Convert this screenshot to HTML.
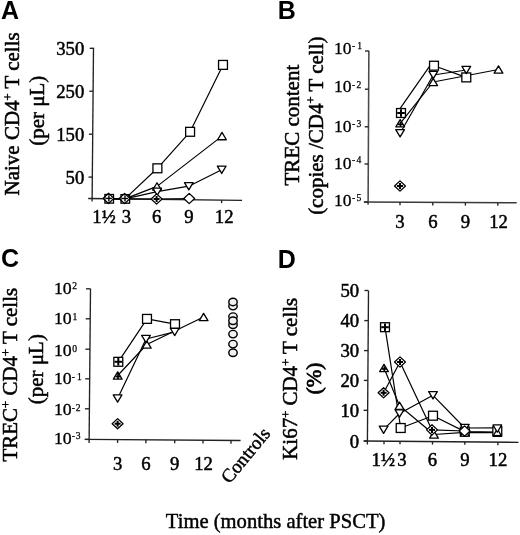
<!DOCTYPE html>
<html><head><meta charset="utf-8"><style>
html,body{margin:0;padding:0;background:#fff;width:520px;height:535px;overflow:hidden}
svg{display:block;will-change:transform}
</style></head><body>
<svg width="520" height="535" viewBox="0 0 520 535">
<rect width="520" height="535" fill="#fff"/>
<text x="1.00" y="18.90" font-size="25" text-anchor="start" font-family='"Liberation Sans", sans-serif' font-weight="bold" >A</text>
<text x="277.80" y="18.60" font-size="25" text-anchor="start" font-family='"Liberation Sans", sans-serif' font-weight="bold" >B</text>
<text x="1.00" y="266.60" font-size="25" text-anchor="start" font-family='"Liberation Sans", sans-serif' font-weight="bold" >C</text>
<text x="277.80" y="267.60" font-size="25" text-anchor="start" font-family='"Liberation Sans", sans-serif' font-weight="bold" >D</text>
<line x1="93.50" y1="47.70" x2="92.10" y2="201.50" stroke="#222" stroke-width="1.35"/>
<line x1="88.20" y1="198.50" x2="242.10" y2="200.40" stroke="#222" stroke-width="1.35"/>
<line x1="89.69" y1="48.30" x2="93.49" y2="48.30" stroke="#222" stroke-width="1.35"/>
<text x="84.30" y="55.30" font-size="18.7" text-anchor="end" font-family='"Liberation Serif", serif' font-weight="normal" stroke="#000" stroke-width="0.5" >350</text>
<line x1="89.30" y1="91.20" x2="93.10" y2="91.20" stroke="#222" stroke-width="1.35"/>
<text x="84.30" y="98.20" font-size="18.7" text-anchor="end" font-family='"Liberation Serif", serif' font-weight="normal" stroke="#000" stroke-width="0.5" >250</text>
<line x1="88.91" y1="134.20" x2="92.71" y2="134.20" stroke="#222" stroke-width="1.35"/>
<text x="84.30" y="141.20" font-size="18.7" text-anchor="end" font-family='"Liberation Serif", serif' font-weight="normal" stroke="#000" stroke-width="0.5" >150</text>
<line x1="88.52" y1="177.10" x2="92.32" y2="177.10" stroke="#222" stroke-width="1.35"/>
<text x="84.30" y="184.10" font-size="18.7" text-anchor="end" font-family='"Liberation Serif", serif' font-weight="normal" stroke="#000" stroke-width="0.5" >50</text>
<line x1="108.30" y1="198.75" x2="108.30" y2="201.75" stroke="#222" stroke-width="1.35"/>
<line x1="124.40" y1="198.95" x2="124.40" y2="201.95" stroke="#222" stroke-width="1.35"/>
<line x1="156.60" y1="199.34" x2="156.60" y2="202.34" stroke="#222" stroke-width="1.35"/>
<line x1="188.90" y1="199.74" x2="188.90" y2="202.74" stroke="#222" stroke-width="1.35"/>
<line x1="221.60" y1="200.15" x2="221.60" y2="203.15" stroke="#222" stroke-width="1.35"/>
<text x="104.00" y="223.00" font-size="18.7" text-anchor="middle" font-family='"Liberation Serif", serif' font-weight="normal" stroke="#000" stroke-width="0.5" >1½</text>
<text x="126.30" y="223.00" font-size="18.7" text-anchor="middle" font-family='"Liberation Serif", serif' font-weight="normal" stroke="#000" stroke-width="0.5" >3</text>
<text x="156.60" y="223.00" font-size="18.7" text-anchor="middle" font-family='"Liberation Serif", serif' font-weight="normal" stroke="#000" stroke-width="0.5" >6</text>
<text x="188.90" y="223.00" font-size="18.7" text-anchor="middle" font-family='"Liberation Serif", serif' font-weight="normal" stroke="#000" stroke-width="0.5" >9</text>
<text x="224.20" y="223.00" font-size="18.7" text-anchor="middle" font-family='"Liberation Serif", serif' font-weight="normal" stroke="#000" stroke-width="0.5" >12</text>
<text transform="translate(19.2,113.9) rotate(-90)" font-size="21" text-anchor="middle" font-family='"Liberation Serif", serif' stroke="#000" stroke-width="0.5">Naive CD4<tspan dy="-7.5" font-size="12.5">+</tspan><tspan dy="7.5"> T cells</tspan></text>
<text transform="translate(43.8,110.8) rotate(-90)" font-size="21" text-anchor="middle" font-family='"Liberation Serif", serif' stroke="#000" stroke-width="0.5">(per μL)</text>
<polyline points="108.70,198.70 124.90,198.90 157.40,168.30 190.10,131.80 223.00,64.90" fill="none" stroke="#000" stroke-width="1.2" stroke-linejoin="round"/>
<polyline points="108.70,198.70 124.90,198.90 157.00,186.40 222.00,136.10" fill="none" stroke="#000" stroke-width="1.2" stroke-linejoin="round"/>
<polyline points="108.70,198.70 124.90,198.90 157.20,191.70 188.80,186.20 221.70,169.80" fill="none" stroke="#000" stroke-width="1.2" stroke-linejoin="round"/>
<polyline points="108.70,198.70 124.90,198.90 156.60,199.00 189.20,198.50" fill="none" stroke="#000" stroke-width="1.2" stroke-linejoin="round"/>
<polygon points="103.05,198.40 108.50,193.30 113.95,198.40 108.50,203.50" fill="#fff" stroke="#000" stroke-width="1.3" stroke-linejoin="round"/>
<rect x="104.90" y="194.50" width="8.6" height="8.6" fill="none" stroke="#000" stroke-width="1.3"/>
<line x1="105.90" y1="198.40" x2="111.90" y2="198.40" stroke="#000" stroke-width="1.4"/>
<line x1="108.90" y1="195.40" x2="108.90" y2="201.40" stroke="#000" stroke-width="1.4"/>
<polygon points="119.15,198.50 124.60,193.40 130.05,198.50 124.60,203.60" fill="#fff" stroke="#000" stroke-width="1.3" stroke-linejoin="round"/>
<rect x="121.00" y="194.60" width="8.6" height="8.6" fill="none" stroke="#000" stroke-width="1.3"/>
<line x1="122.00" y1="198.50" x2="128.00" y2="198.50" stroke="#000" stroke-width="1.4"/>
<line x1="125.00" y1="195.50" x2="125.00" y2="201.50" stroke="#000" stroke-width="1.4"/>
<rect x="152.95" y="163.85" width="8.9" height="8.9" fill="#fff" stroke="#000" stroke-width="1.3"/>
<rect x="185.65" y="127.35" width="8.9" height="8.9" fill="#fff" stroke="#000" stroke-width="1.3"/>
<rect x="218.55" y="60.45" width="8.9" height="8.9" fill="#fff" stroke="#000" stroke-width="1.3"/>
<polygon points="152.65,190.05 161.35,190.05 157.00,182.75" fill="#fff" stroke="#000" stroke-width="1.3" stroke-linejoin="round"/>
<polygon points="217.65,139.75 226.35,139.75 222.00,132.45" fill="#fff" stroke="#000" stroke-width="1.3" stroke-linejoin="round"/>
<polygon points="152.85,188.05 161.55,188.05 157.20,195.35" fill="#fff" stroke="#000" stroke-width="1.3" stroke-linejoin="round"/>
<polygon points="184.45,182.55 193.15,182.55 188.80,189.85" fill="#fff" stroke="#000" stroke-width="1.3" stroke-linejoin="round"/>
<polygon points="217.35,166.15 226.05,166.15 221.70,173.45" fill="#fff" stroke="#000" stroke-width="1.3" stroke-linejoin="round"/>
<polygon points="151.15,199.00 156.60,193.90 162.05,199.00 156.60,204.10" fill="#fff" stroke="#000" stroke-width="1.3" stroke-linejoin="round"/>
<line x1="153.60" y1="199.00" x2="159.60" y2="199.00" stroke="#000" stroke-width="2.0"/>
<line x1="156.60" y1="196.00" x2="156.60" y2="202.00" stroke="#000" stroke-width="2.0"/>
<polygon points="183.75,198.50 189.20,193.40 194.65,198.50 189.20,203.60" fill="#fff" stroke="#000" stroke-width="1.3" stroke-linejoin="round"/>
<line x1="368.85" y1="50.70" x2="368.10" y2="204.70" stroke="#4a4a4a" stroke-width="1.55"/>
<line x1="363.80" y1="202.10" x2="516.70" y2="202.80" stroke="#3a3a3a" stroke-width="1.5"/>
<line x1="365.05" y1="51.00" x2="368.85" y2="51.00" stroke="#222" stroke-width="1.35"/>
<text x="351.60" y="53.80" font-size="17.578" text-anchor="end" font-family='"Liberation Serif", serif' font-weight="normal" stroke="#000" stroke-width="0.3" >10</text>
<text x="351.90" y="48.80" font-size="9.6" text-anchor="start" font-family='"Liberation Serif", serif' font-weight="normal" stroke="#000" stroke-width="0.25" >-</text>
<text x="357.20" y="48.80" font-size="9.6" text-anchor="start" font-family='"Liberation Serif", serif' font-weight="normal" stroke="#000" stroke-width="0.25" >1</text>
<line x1="364.86" y1="89.20" x2="368.66" y2="89.20" stroke="#222" stroke-width="1.35"/>
<text x="351.60" y="92.20" font-size="17.578" text-anchor="end" font-family='"Liberation Serif", serif' font-weight="normal" stroke="#000" stroke-width="0.3" >10</text>
<text x="351.90" y="87.60" font-size="9.6" text-anchor="start" font-family='"Liberation Serif", serif' font-weight="normal" stroke="#000" stroke-width="0.25" >-</text>
<text x="356.60" y="87.60" font-size="9.6" text-anchor="start" font-family='"Liberation Serif", serif' font-weight="normal" stroke="#000" stroke-width="0.25" >2</text>
<line x1="364.68" y1="126.80" x2="368.48" y2="126.80" stroke="#222" stroke-width="1.35"/>
<text x="351.60" y="132.30" font-size="17.578" text-anchor="end" font-family='"Liberation Serif", serif' font-weight="normal" stroke="#000" stroke-width="0.3" >10</text>
<text x="351.90" y="127.40" font-size="9.6" text-anchor="start" font-family='"Liberation Serif", serif' font-weight="normal" stroke="#000" stroke-width="0.25" >-</text>
<text x="356.60" y="127.40" font-size="9.6" text-anchor="start" font-family='"Liberation Serif", serif' font-weight="normal" stroke="#000" stroke-width="0.25" >3</text>
<line x1="364.50" y1="164.00" x2="368.30" y2="164.00" stroke="#222" stroke-width="1.35"/>
<text x="351.60" y="168.50" font-size="17.578" text-anchor="end" font-family='"Liberation Serif", serif' font-weight="normal" stroke="#000" stroke-width="0.3" >10</text>
<text x="351.90" y="163.20" font-size="9.6" text-anchor="start" font-family='"Liberation Serif", serif' font-weight="normal" stroke="#000" stroke-width="0.25" >-</text>
<text x="356.60" y="163.20" font-size="9.6" text-anchor="start" font-family='"Liberation Serif", serif' font-weight="normal" stroke="#000" stroke-width="0.25" >4</text>
<line x1="364.31" y1="202.10" x2="368.11" y2="202.10" stroke="#222" stroke-width="1.35"/>
<text x="351.60" y="205.70" font-size="17.578" text-anchor="end" font-family='"Liberation Serif", serif' font-weight="normal" stroke="#000" stroke-width="0.3" >10</text>
<text x="351.90" y="201.10" font-size="9.6" text-anchor="start" font-family='"Liberation Serif", serif' font-weight="normal" stroke="#000" stroke-width="0.25" >-</text>
<text x="356.60" y="201.10" font-size="9.6" text-anchor="start" font-family='"Liberation Serif", serif' font-weight="normal" stroke="#000" stroke-width="0.25" >5</text>
<line x1="400.00" y1="202.27" x2="400.00" y2="205.27" stroke="#222" stroke-width="1.35"/>
<text x="400.00" y="227.80" font-size="18.7" text-anchor="middle" font-family='"Liberation Serif", serif' font-weight="normal" stroke="#000" stroke-width="0.5" >3</text>
<line x1="432.80" y1="202.42" x2="432.80" y2="205.42" stroke="#222" stroke-width="1.35"/>
<text x="432.80" y="227.80" font-size="18.7" text-anchor="middle" font-family='"Liberation Serif", serif' font-weight="normal" stroke="#000" stroke-width="0.5" >6</text>
<line x1="465.40" y1="202.56" x2="465.40" y2="205.56" stroke="#222" stroke-width="1.35"/>
<text x="465.40" y="227.80" font-size="18.7" text-anchor="middle" font-family='"Liberation Serif", serif' font-weight="normal" stroke="#000" stroke-width="0.5" >9</text>
<line x1="497.80" y1="202.71" x2="497.80" y2="205.71" stroke="#222" stroke-width="1.35"/>
<text x="498.60" y="227.80" font-size="18.7" text-anchor="middle" font-family='"Liberation Serif", serif' font-weight="normal" stroke="#000" stroke-width="0.5" >12</text>
<text transform="translate(298.9,125.1) rotate(-90)" font-size="21" text-anchor="middle" font-family='"Liberation Serif", serif' stroke="#000" stroke-width="0.5">TREC content</text>
<text transform="translate(322.8,125.7) rotate(-90)" font-size="21" text-anchor="middle" font-family='"Liberation Serif", serif' stroke="#000" stroke-width="0.5">(copies /CD4<tspan dy="-7.5" font-size="12.5">+</tspan><tspan dy="7.5"> T cell)</tspan></text>
<polyline points="397.20,112.60 430.20,65.40" fill="none" stroke="#000" stroke-width="1.2" stroke-linejoin="round"/>
<polyline points="434.00,65.70 466.30,77.40" fill="none" stroke="#000" stroke-width="1.2" stroke-linejoin="round"/>
<polyline points="400.20,123.30 433.20,82.00 498.50,69.50" fill="none" stroke="#000" stroke-width="1.2" stroke-linejoin="round"/>
<polyline points="400.10,133.30 433.30,75.00 466.30,70.00" fill="none" stroke="#000" stroke-width="1.2" stroke-linejoin="round"/>
<polygon points="395.75,129.65 404.45,129.65 400.10,136.95" fill="#fff" stroke="#000" stroke-width="1.3" stroke-linejoin="round"/>
<polygon points="395.85,126.95 404.55,126.95 400.20,119.65" fill="#fff" stroke="#000" stroke-width="1.3" stroke-linejoin="round"/>
<line x1="398.00" y1="124.30" x2="403.00" y2="124.30" stroke="#000" stroke-width="1.7"/>
<line x1="400.50" y1="121.80" x2="400.50" y2="126.80" stroke="#000" stroke-width="1.7"/>
<rect x="396.55" y="108.55" width="8.9" height="8.9" fill="#fff" stroke="#000" stroke-width="1.3"/>
<line x1="397.20" y1="113.00" x2="404.80" y2="113.00" stroke="#000" stroke-width="2.0"/>
<line x1="401.00" y1="109.20" x2="401.00" y2="116.80" stroke="#000" stroke-width="2.0"/>
<polygon points="428.85,85.65 437.55,85.65 433.20,78.35" fill="#fff" stroke="#000" stroke-width="1.3" stroke-linejoin="round"/>
<polygon points="428.95,71.35 437.65,71.35 433.30,78.65" fill="#fff" stroke="#000" stroke-width="1.3" stroke-linejoin="round"/>
<rect x="429.55" y="61.25" width="8.9" height="8.9" fill="#fff" stroke="#000" stroke-width="1.3"/>
<rect x="461.85" y="72.95" width="8.9" height="8.9" fill="#fff" stroke="#000" stroke-width="1.3"/>
<polygon points="461.95,66.35 470.65,66.35 466.30,73.65" fill="#fff" stroke="#000" stroke-width="1.3" stroke-linejoin="round"/>
<polygon points="494.15,73.15 502.85,73.15 498.50,65.85" fill="#fff" stroke="#000" stroke-width="1.3" stroke-linejoin="round"/>
<polygon points="394.55,186.00 400.00,180.90 405.45,186.00 400.00,191.10" fill="#fff" stroke="#000" stroke-width="1.3" stroke-linejoin="round"/>
<line x1="397.00" y1="186.00" x2="403.00" y2="186.00" stroke="#000" stroke-width="2.0"/>
<line x1="400.00" y1="183.00" x2="400.00" y2="189.00" stroke="#000" stroke-width="2.0"/>
<line x1="90.50" y1="288.80" x2="89.10" y2="443.10" stroke="#222" stroke-width="1.35"/>
<line x1="85.20" y1="439.40" x2="240.60" y2="440.50" stroke="#222" stroke-width="1.35"/>
<line x1="86.00" y1="288.80" x2="90.50" y2="288.80" stroke="#222" stroke-width="1.35"/>
<text x="71.70" y="293.80" font-size="17.764999999999997" text-anchor="end" font-family='"Liberation Serif", serif' font-weight="normal" stroke="#000" stroke-width="0.35" >10</text>
<text x="72.30" y="288.80" font-size="9.6" text-anchor="start" font-family='"Liberation Serif", serif' font-weight="normal" stroke="#000" stroke-width="0.25" >2</text>
<line x1="85.73" y1="318.80" x2="90.23" y2="318.80" stroke="#222" stroke-width="1.35"/>
<text x="71.70" y="324.10" font-size="17.764999999999997" text-anchor="end" font-family='"Liberation Serif", serif' font-weight="normal" stroke="#000" stroke-width="0.35" >10</text>
<text x="72.60" y="319.50" font-size="9.6" text-anchor="start" font-family='"Liberation Serif", serif' font-weight="normal" stroke="#000" stroke-width="0.25" >1</text>
<line x1="85.45" y1="349.20" x2="89.95" y2="349.20" stroke="#222" stroke-width="1.35"/>
<text x="71.70" y="356.30" font-size="17.764999999999997" text-anchor="end" font-family='"Liberation Serif", serif' font-weight="normal" stroke="#000" stroke-width="0.35" >10</text>
<text x="72.30" y="352.10" font-size="9.6" text-anchor="start" font-family='"Liberation Serif", serif' font-weight="normal" stroke="#000" stroke-width="0.25" >0</text>
<line x1="85.18" y1="378.80" x2="89.68" y2="378.80" stroke="#222" stroke-width="1.35"/>
<text x="71.70" y="384.40" font-size="17.764999999999997" text-anchor="end" font-family='"Liberation Serif", serif' font-weight="normal" stroke="#000" stroke-width="0.35" >10</text>
<text x="71.80" y="380.20" font-size="9.6" text-anchor="start" font-family='"Liberation Serif", serif' font-weight="normal" stroke="#000" stroke-width="0.25" >-</text>
<text x="77.00" y="380.20" font-size="9.6" text-anchor="start" font-family='"Liberation Serif", serif' font-weight="normal" stroke="#000" stroke-width="0.25" >1</text>
<line x1="84.91" y1="408.80" x2="89.41" y2="408.80" stroke="#222" stroke-width="1.35"/>
<text x="71.70" y="414.70" font-size="17.764999999999997" text-anchor="end" font-family='"Liberation Serif", serif' font-weight="normal" stroke="#000" stroke-width="0.35" >10</text>
<text x="71.80" y="410.60" font-size="9.6" text-anchor="start" font-family='"Liberation Serif", serif' font-weight="normal" stroke="#000" stroke-width="0.25" >-</text>
<text x="75.80" y="410.60" font-size="9.6" text-anchor="start" font-family='"Liberation Serif", serif' font-weight="normal" stroke="#000" stroke-width="0.25" >2</text>
<line x1="84.63" y1="439.40" x2="89.13" y2="439.40" stroke="#222" stroke-width="1.35"/>
<text x="71.70" y="444.30" font-size="17.764999999999997" text-anchor="end" font-family='"Liberation Serif", serif' font-weight="normal" stroke="#000" stroke-width="0.35" >10</text>
<text x="71.80" y="439.30" font-size="9.6" text-anchor="start" font-family='"Liberation Serif", serif' font-weight="normal" stroke="#000" stroke-width="0.25" >-</text>
<text x="75.80" y="439.30" font-size="9.6" text-anchor="start" font-family='"Liberation Serif", serif' font-weight="normal" stroke="#000" stroke-width="0.25" >3</text>
<line x1="117.60" y1="439.63" x2="117.60" y2="442.93" stroke="#222" stroke-width="1.35"/>
<text x="117.60" y="469.80" font-size="18.7" text-anchor="middle" font-family='"Liberation Serif", serif' font-weight="normal" stroke="#000" stroke-width="0.5" >3</text>
<line x1="145.90" y1="439.83" x2="145.90" y2="443.13" stroke="#222" stroke-width="1.35"/>
<text x="145.90" y="469.80" font-size="18.7" text-anchor="middle" font-family='"Liberation Serif", serif' font-weight="normal" stroke="#000" stroke-width="0.5" >6</text>
<line x1="174.70" y1="440.03" x2="174.70" y2="443.33" stroke="#222" stroke-width="1.35"/>
<text x="174.70" y="469.80" font-size="18.7" text-anchor="middle" font-family='"Liberation Serif", serif' font-weight="normal" stroke="#000" stroke-width="0.5" >9</text>
<line x1="203.00" y1="440.23" x2="203.00" y2="443.53" stroke="#222" stroke-width="1.35"/>
<text x="203.60" y="469.80" font-size="18.7" text-anchor="middle" font-family='"Liberation Serif", serif' font-weight="normal" stroke="#000" stroke-width="0.5" >12</text>
<line x1="231.00" y1="440.43" x2="231.00" y2="443.73" stroke="#222" stroke-width="1.35"/>
<text transform="translate(229.5,484.5) rotate(-50.5)" font-size="19" font-family='"Liberation Serif", serif' stroke="#000" stroke-width="0.45">Controls</text>
<text transform="translate(17.3,374.7) rotate(-90)" font-size="21" text-anchor="middle" font-family='"Liberation Serif", serif' stroke="#000" stroke-width="0.5">TREC<tspan dy="-7.5" font-size="12.5">+</tspan><tspan dy="7.5"> CD4<tspan dy="-7.5" font-size="12.5">+</tspan><tspan dy="7.5"> T cells</tspan></tspan></text>
<text transform="translate(42.6,369.2) rotate(-90)" font-size="21" text-anchor="middle" font-family='"Liberation Serif", serif' stroke="#000" stroke-width="0.5">(per μL)</text>
<polyline points="118.30,361.80 147.00,318.90 175.00,324.20" fill="none" stroke="#000" stroke-width="1.2" stroke-linejoin="round"/>
<polyline points="117.70,375.50 146.80,344.50 203.60,317.00" fill="none" stroke="#000" stroke-width="1.2" stroke-linejoin="round"/>
<polyline points="117.60,398.50 146.00,339.00 174.70,331.90" fill="none" stroke="#000" stroke-width="1.2" stroke-linejoin="round"/>
<rect x="113.85" y="357.35" width="8.9" height="8.9" fill="#fff" stroke="#000" stroke-width="1.3"/>
<line x1="114.50" y1="361.80" x2="122.10" y2="361.80" stroke="#000" stroke-width="2.0"/>
<line x1="118.30" y1="358.00" x2="118.30" y2="365.60" stroke="#000" stroke-width="2.0"/>
<polygon points="113.35,379.15 122.05,379.15 117.70,371.85" fill="#fff" stroke="#000" stroke-width="1.3" stroke-linejoin="round"/>
<line x1="115.50" y1="376.50" x2="120.50" y2="376.50" stroke="#000" stroke-width="1.7"/>
<line x1="118.00" y1="374.00" x2="118.00" y2="379.00" stroke="#000" stroke-width="1.7"/>
<polygon points="113.25,394.85 121.95,394.85 117.60,402.15" fill="#fff" stroke="#000" stroke-width="1.3" stroke-linejoin="round"/>
<polygon points="112.15,423.70 117.60,418.60 123.05,423.70 117.60,428.80" fill="#fff" stroke="#000" stroke-width="1.3" stroke-linejoin="round"/>
<line x1="114.60" y1="423.70" x2="120.60" y2="423.70" stroke="#000" stroke-width="2.0"/>
<line x1="117.60" y1="420.70" x2="117.60" y2="426.70" stroke="#000" stroke-width="2.0"/>
<rect x="142.55" y="314.45" width="8.9" height="8.9" fill="#fff" stroke="#000" stroke-width="1.3"/>
<polygon points="142.45,348.15 151.15,348.15 146.80,340.85" fill="#fff" stroke="#000" stroke-width="1.3" stroke-linejoin="round"/>
<polygon points="141.65,335.35 150.35,335.35 146.00,342.65" fill="#fff" stroke="#000" stroke-width="1.3" stroke-linejoin="round"/>
<rect x="170.55" y="319.75" width="8.9" height="8.9" fill="#fff" stroke="#000" stroke-width="1.3"/>
<polygon points="170.35,328.25 179.05,328.25 174.70,335.55" fill="#fff" stroke="#000" stroke-width="1.3" stroke-linejoin="round"/>
<polygon points="199.25,320.65 207.95,320.65 203.60,313.35" fill="#fff" stroke="#000" stroke-width="1.3" stroke-linejoin="round"/>
<ellipse cx="233" cy="306.1" rx="4.2" ry="3.75" fill="#f1f1f1" stroke="#000" stroke-width="1.45"/>
<ellipse cx="233" cy="301.9" rx="4.2" ry="3.75" fill="#f1f1f1" stroke="#000" stroke-width="1.45"/>
<ellipse cx="233" cy="316.6" rx="4.2" ry="3.75" fill="#f1f1f1" stroke="#000" stroke-width="1.45"/>
<ellipse cx="233" cy="324.8" rx="4.2" ry="3.75" fill="#f1f1f1" stroke="#000" stroke-width="1.45"/>
<ellipse cx="233" cy="320.8" rx="4.2" ry="3.75" fill="#f1f1f1" stroke="#000" stroke-width="1.45"/>
<ellipse cx="233" cy="334.1" rx="4.2" ry="3.75" fill="#f1f1f1" stroke="#000" stroke-width="1.45"/>
<ellipse cx="233" cy="344.1" rx="4.2" ry="3.75" fill="#f1f1f1" stroke="#000" stroke-width="1.45"/>
<ellipse cx="233" cy="352.8" rx="4.2" ry="3.75" fill="#f1f1f1" stroke="#000" stroke-width="1.45"/>
<line x1="368.50" y1="290.70" x2="367.40" y2="444.50" stroke="#222" stroke-width="1.35"/>
<line x1="364.20" y1="441.00" x2="518.50" y2="442.30" stroke="#222" stroke-width="1.35"/>
<line x1="364.50" y1="290.50" x2="368.50" y2="290.50" stroke="#222" stroke-width="1.35"/>
<text x="359.20" y="297.30" font-size="18.7" text-anchor="end" font-family='"Liberation Serif", serif' font-weight="normal" stroke="#000" stroke-width="0.5" >50</text>
<line x1="364.29" y1="320.60" x2="368.29" y2="320.60" stroke="#222" stroke-width="1.35"/>
<text x="359.20" y="327.40" font-size="18.7" text-anchor="end" font-family='"Liberation Serif", serif' font-weight="normal" stroke="#000" stroke-width="0.5" >40</text>
<line x1="364.07" y1="350.60" x2="368.07" y2="350.60" stroke="#222" stroke-width="1.35"/>
<text x="359.20" y="357.40" font-size="18.7" text-anchor="end" font-family='"Liberation Serif", serif' font-weight="normal" stroke="#000" stroke-width="0.5" >30</text>
<line x1="363.86" y1="380.40" x2="367.86" y2="380.40" stroke="#222" stroke-width="1.35"/>
<text x="359.20" y="387.20" font-size="18.7" text-anchor="end" font-family='"Liberation Serif", serif' font-weight="normal" stroke="#000" stroke-width="0.5" >20</text>
<line x1="363.64" y1="410.30" x2="367.64" y2="410.30" stroke="#222" stroke-width="1.35"/>
<text x="359.20" y="417.10" font-size="18.7" text-anchor="end" font-family='"Liberation Serif", serif' font-weight="normal" stroke="#000" stroke-width="0.5" >10</text>
<line x1="363.43" y1="441.00" x2="367.43" y2="441.00" stroke="#222" stroke-width="1.35"/>
<text x="359.20" y="447.80" font-size="18.7" text-anchor="end" font-family='"Liberation Serif", serif' font-weight="normal" stroke="#000" stroke-width="0.5" >0</text>
<line x1="384.00" y1="441.17" x2="384.00" y2="444.17" stroke="#222" stroke-width="1.35"/>
<line x1="400.00" y1="441.30" x2="400.00" y2="444.30" stroke="#222" stroke-width="1.35"/>
<line x1="432.50" y1="441.58" x2="432.50" y2="444.58" stroke="#222" stroke-width="1.35"/>
<line x1="464.80" y1="441.85" x2="464.80" y2="444.85" stroke="#222" stroke-width="1.35"/>
<line x1="497.90" y1="442.13" x2="497.90" y2="445.13" stroke="#222" stroke-width="1.35"/>
<text x="383.30" y="466.00" font-size="18.7" text-anchor="middle" font-family='"Liberation Serif", serif' font-weight="normal" stroke="#000" stroke-width="0.5" >1½</text>
<text x="401.80" y="466.00" font-size="18.7" text-anchor="middle" font-family='"Liberation Serif", serif' font-weight="normal" stroke="#000" stroke-width="0.5" >3</text>
<text x="432.50" y="466.00" font-size="18.7" text-anchor="middle" font-family='"Liberation Serif", serif' font-weight="normal" stroke="#000" stroke-width="0.5" >6</text>
<text x="464.80" y="466.00" font-size="18.7" text-anchor="middle" font-family='"Liberation Serif", serif' font-weight="normal" stroke="#000" stroke-width="0.5" >9</text>
<text x="497.90" y="466.00" font-size="18.7" text-anchor="middle" font-family='"Liberation Serif", serif' font-weight="normal" stroke="#000" stroke-width="0.5" >12</text>
<text transform="translate(297.3,378.8) rotate(-90)" font-size="21" text-anchor="middle" font-family='"Liberation Serif", serif' stroke="#000" stroke-width="0.5">Ki67<tspan dy="-7.5" font-size="12.5">+</tspan><tspan dy="7.5"> CD4<tspan dy="-7.5" font-size="12.5">+</tspan><tspan dy="7.5"> T cells</tspan></tspan></text>
<text transform="translate(320.6,378.6) rotate(-90)" font-size="21" text-anchor="middle" font-family='"Liberation Serif", serif' stroke="#000" stroke-width="0.75">(%)</text>
<polyline points="385.00,327.20 400.70,428.00 433.00,415.70 464.80,431.60 497.30,432.20" fill="none" stroke="#000" stroke-width="1.2" stroke-linejoin="round"/>
<polyline points="384.00,368.00 399.50,405.80 434.00,434.50 464.80,432.40 497.30,432.60" fill="none" stroke="#000" stroke-width="1.2" stroke-linejoin="round"/>
<polyline points="383.60,392.80 400.00,362.00 432.00,429.90 464.60,431.00" fill="none" stroke="#000" stroke-width="1.2" stroke-linejoin="round"/>
<polyline points="383.60,429.70 399.50,413.50 433.00,395.30 464.80,428.00 497.30,427.80" fill="none" stroke="#000" stroke-width="1.2" stroke-linejoin="round"/>
<rect x="380.55" y="322.75" width="8.9" height="8.9" fill="#fff" stroke="#000" stroke-width="1.3"/>
<line x1="381.20" y1="327.20" x2="388.80" y2="327.20" stroke="#000" stroke-width="2.0"/>
<line x1="385.00" y1="323.40" x2="385.00" y2="331.00" stroke="#000" stroke-width="2.0"/>
<polygon points="379.65,371.65 388.35,371.65 384.00,364.35" fill="#fff" stroke="#000" stroke-width="1.3" stroke-linejoin="round"/>
<line x1="381.80" y1="369.00" x2="386.80" y2="369.00" stroke="#000" stroke-width="1.7"/>
<line x1="384.30" y1="366.50" x2="384.30" y2="371.50" stroke="#000" stroke-width="1.7"/>
<polygon points="378.15,392.80 383.60,387.70 389.05,392.80 383.60,397.90" fill="#fff" stroke="#000" stroke-width="1.3" stroke-linejoin="round"/>
<line x1="380.60" y1="392.80" x2="386.60" y2="392.80" stroke="#000" stroke-width="2.0"/>
<line x1="383.60" y1="389.80" x2="383.60" y2="395.80" stroke="#000" stroke-width="2.0"/>
<polygon points="379.25,426.05 387.95,426.05 383.60,433.35" fill="#fff" stroke="#000" stroke-width="1.3" stroke-linejoin="round"/>
<rect x="396.25" y="423.55" width="8.9" height="8.9" fill="#fff" stroke="#000" stroke-width="1.3"/>
<polygon points="395.15,409.45 403.85,409.45 399.50,402.15" fill="#fff" stroke="#000" stroke-width="1.3" stroke-linejoin="round"/>
<polygon points="395.15,409.85 403.85,409.85 399.50,417.15" fill="#fff" stroke="#000" stroke-width="1.3" stroke-linejoin="round"/>
<polygon points="394.55,362.00 400.00,356.90 405.45,362.00 400.00,367.10" fill="#fff" stroke="#000" stroke-width="1.3" stroke-linejoin="round"/>
<line x1="397.00" y1="362.00" x2="403.00" y2="362.00" stroke="#000" stroke-width="2.0"/>
<line x1="400.00" y1="359.00" x2="400.00" y2="365.00" stroke="#000" stroke-width="2.0"/>
<polygon points="429.65,438.15 438.35,438.15 434.00,430.85" fill="#fff" stroke="#000" stroke-width="1.3" stroke-linejoin="round"/>
<rect x="428.55" y="411.25" width="8.9" height="8.9" fill="#fff" stroke="#000" stroke-width="1.3"/>
<polygon points="428.65,391.65 437.35,391.65 433.00,398.95" fill="#fff" stroke="#000" stroke-width="1.3" stroke-linejoin="round"/>
<polygon points="426.55,429.90 432.00,424.80 437.45,429.90 432.00,435.00" fill="#fff" stroke="#000" stroke-width="1.3" stroke-linejoin="round"/>
<line x1="429.00" y1="429.90" x2="435.00" y2="429.90" stroke="#000" stroke-width="2.0"/>
<line x1="432.00" y1="426.90" x2="432.00" y2="432.90" stroke="#000" stroke-width="2.0"/>
<rect x="460.35" y="427.15" width="8.9" height="8.9" fill="#fff" stroke="#000" stroke-width="1.3"/>
<polygon points="460.45,436.05 469.15,436.05 464.80,428.75" fill="#fff" stroke="#000" stroke-width="1.3" stroke-linejoin="round"/>
<polygon points="460.45,424.35 469.15,424.35 464.80,431.65" fill="#fff" stroke="#000" stroke-width="1.3" stroke-linejoin="round"/>
<polygon points="459.15,431.00 464.60,425.90 470.05,431.00 464.60,436.10" fill="#fff" stroke="#000" stroke-width="1.3" stroke-linejoin="round"/>
<rect x="492.85" y="426.65" width="8.9" height="8.9" fill="#fff" stroke="#000" stroke-width="1.3"/>
<polygon points="492.95,436.25 501.65,436.25 497.30,428.95" fill="none" stroke="#000" stroke-width="1.3" stroke-linejoin="round"/>
<polygon points="492.95,424.95 501.65,424.95 497.30,432.25" fill="#fff" stroke="#000" stroke-width="1.3" stroke-linejoin="round"/>
<text x="275.60" y="528.30" font-size="20.6" text-anchor="middle" font-family='"Liberation Serif", serif' font-weight="normal" stroke="#000" stroke-width="0.45" >Time (months after PSCT)</text>
</svg>
</body></html>
